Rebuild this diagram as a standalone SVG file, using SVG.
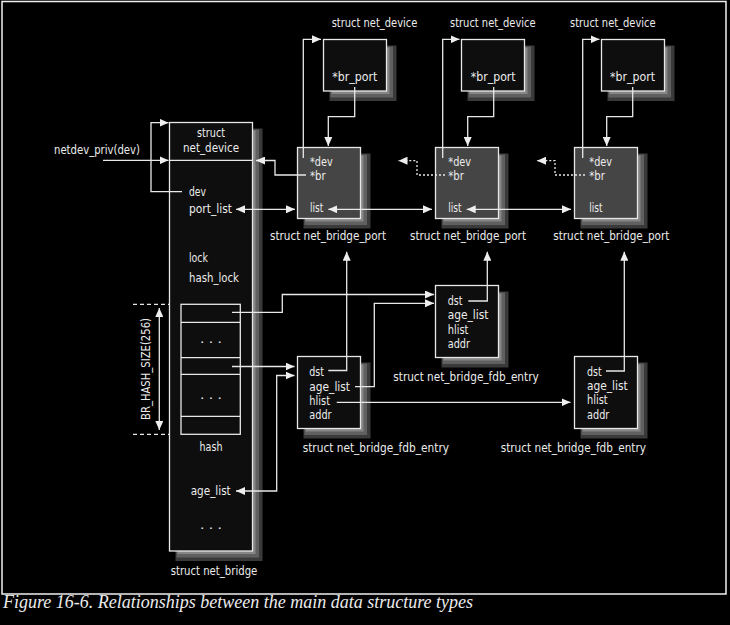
<svg xmlns="http://www.w3.org/2000/svg" width="730" height="625" viewBox="0 0 730 625">
<defs>
<marker id="ah" viewBox="0 0 9 8" refX="9" refY="4" markerWidth="9" markerHeight="8" markerUnits="userSpaceOnUse" orient="auto-start-reverse"><path d="M0,0 L9,4 L0,8 z" fill="#eeeeee"/></marker>
</defs>
<style>
.box{fill:#0e0e0e;stroke:#e8e8e8;stroke-width:1.3}
.port{fill:#454545;stroke:#e8e8e8;stroke-width:1.3}
.s1{fill:#3a3a3a}.s2{fill:#606060}.s3{fill:#868686}
text{font-family:"DejaVu Sans Condensed","Liberation Sans Narrow","Liberation Sans",sans-serif;font-size:13px;fill:#ececec}
.mid{text-anchor:middle}
.cap{font-family:"Liberation Serif","DejaVu Serif",serif;font-style:italic;font-size:18px}
.c{fill:none;stroke:#e8e8e8;stroke-width:1.3}
.a{marker-end:url(#ah)}
.aa{marker-start:url(#ah);marker-end:url(#ah)}
.dot{stroke-dasharray:2,2}
.dash{stroke-dasharray:4,3}
</style>
<rect x="0" y="0" width="730" height="625" fill="#000"/>
<rect x="2" y="1.5" width="724" height="592.5" fill="none" stroke="#f0f0f0" stroke-width="1.5"/>

<g id="net_bridge">
<rect class="s1" x="175.5" y="128.5" width="87" height="432.5"/>
<rect class="s2" x="176.5" y="129.5" width="82.5" height="428"/>
<rect class="s3" x="177.5" y="130.5" width="78" height="423.5"/>
<rect class="box" x="169.5" y="122.5" width="83" height="428.5"/>
<line class="c" x1="169.5" y1="160.3" x2="252.5" y2="160.3"/>
<text class="mid" x="211" y="137" textLength="28" lengthAdjust="spacingAndGlyphs">struct</text>
<text class="mid" x="211" y="151.5" textLength="56" lengthAdjust="spacingAndGlyphs">net_device</text>
<text x="189" y="195.5" textLength="17" lengthAdjust="spacingAndGlyphs">dev</text>
<text x="189" y="212.7" textLength="43" lengthAdjust="spacingAndGlyphs">port_list</text>
<text x="189" y="262.3" textLength="19" lengthAdjust="spacingAndGlyphs">lock</text>
<text x="189" y="281.5" textLength="50" lengthAdjust="spacingAndGlyphs">hash_lock</text>
<text class="mid" x="211" y="451" textLength="23" lengthAdjust="spacingAndGlyphs">hash</text>
<text x="190.7" y="494.5" textLength="40" lengthAdjust="spacingAndGlyphs">age_list</text>
<text class="mid" x="211" y="528.5" textLength="22" lengthAdjust="spacingAndGlyphs">. . .</text>
<text x="170.7" y="574.5" textLength="86.6" lengthAdjust="spacingAndGlyphs">struct net_bridge</text>
</g>

<g id="hash">
<rect class="box" x="181" y="304.3" width="59.3" height="130"/>
<line class="c" x1="181" y1="322.3" x2="240.3" y2="322.3"/>
<line class="c" x1="181" y1="357.7" x2="240.3" y2="357.7"/>
<line class="c" x1="181" y1="374.3" x2="240.3" y2="374.3"/>
<line class="c" x1="181" y1="416.3" x2="240.3" y2="416.3"/>
<text class="mid" x="211" y="343" textLength="22" lengthAdjust="spacingAndGlyphs">. . .</text>
<text class="mid" x="211" y="399" textLength="22" lengthAdjust="spacingAndGlyphs">. . .</text>
<text class="mid" transform="rotate(-90 149.5 369)" x="149.5" y="369" textLength="102" lengthAdjust="spacingAndGlyphs">BR_HASH_SIZE(256)</text>
</g>

<g id="net_device_1">
<rect class="s1" x="329.5" y="45.5" width="67" height="55.5"/>
<rect class="s2" x="330.5" y="46.5" width="62.5" height="51"/>
<rect class="s3" x="331.5" y="47.5" width="58" height="46.5"/>
<rect class="box" x="323.5" y="39.5" width="63" height="51.5"/>
<text x="332.3" y="81" textLength="45" lengthAdjust="spacingAndGlyphs">*br_port</text>
<text x="331.7" y="27.3" textLength="85.6" lengthAdjust="spacingAndGlyphs">struct net_device</text>
</g>
<g id="net_device_2">
<rect class="s1" x="467.5" y="45.5" width="67" height="55.5"/>
<rect class="s2" x="468.5" y="46.5" width="62.5" height="51"/>
<rect class="s3" x="469.5" y="47.5" width="58" height="46.5"/>
<rect class="box" x="461.5" y="39.5" width="63" height="51.5"/>
<text x="470.7" y="81" textLength="45" lengthAdjust="spacingAndGlyphs">*br_port</text>
<text x="450" y="27.3" textLength="85.6" lengthAdjust="spacingAndGlyphs">struct net_device</text>
</g>
<g id="net_device_3">
<rect class="s1" x="607.5" y="45.5" width="67" height="55.5"/>
<rect class="s2" x="608.5" y="46.5" width="62.5" height="51"/>
<rect class="s3" x="609.5" y="47.5" width="58" height="46.5"/>
<rect class="box" x="601.5" y="39.5" width="63" height="51.5"/>
<text x="610" y="81" textLength="45" lengthAdjust="spacingAndGlyphs">*br_port</text>
<text x="570" y="27.3" textLength="85.6" lengthAdjust="spacingAndGlyphs">struct net_device</text>
</g>

<g id="port_1">
<rect class="s1" x="303.5" y="153.5" width="67" height="75"/>
<rect class="s2" x="304.5" y="154.5" width="62.5" height="70.5"/>
<rect class="s3" x="305.5" y="155.5" width="58" height="66"/>
<rect class="port" x="297.5" y="147.5" width="63" height="71"/>
<text x="310" y="165.7" textLength="22.7" lengthAdjust="spacingAndGlyphs">*dev</text>
<text x="310" y="180" textLength="15.7" lengthAdjust="spacingAndGlyphs">*br</text>
<text x="310" y="212.3" textLength="13.3" lengthAdjust="spacingAndGlyphs">list</text>
<text x="270" y="240" textLength="116" lengthAdjust="spacingAndGlyphs">struct net_bridge_port</text>
</g>
<g id="port_2">
<rect class="s1" x="441.5" y="153.5" width="67" height="75"/>
<rect class="s2" x="442.5" y="154.5" width="62.5" height="70.5"/>
<rect class="s3" x="443.5" y="155.5" width="58" height="66"/>
<rect class="port" x="435.5" y="147.5" width="63" height="71"/>
<text x="448.3" y="165.7" textLength="22.7" lengthAdjust="spacingAndGlyphs">*dev</text>
<text x="448.3" y="180" textLength="15.7" lengthAdjust="spacingAndGlyphs">*br</text>
<text x="448.3" y="212.3" textLength="13.3" lengthAdjust="spacingAndGlyphs">list</text>
<text x="410" y="240" textLength="116" lengthAdjust="spacingAndGlyphs">struct net_bridge_port</text>
</g>
<g id="port_3">
<rect class="s1" x="580.5" y="153.5" width="67" height="75"/>
<rect class="s2" x="581.5" y="154.5" width="62.5" height="70.5"/>
<rect class="s3" x="582.5" y="155.5" width="58" height="66"/>
<rect class="port" x="574.5" y="147.5" width="63" height="71"/>
<text x="589.3" y="165.7" textLength="22.7" lengthAdjust="spacingAndGlyphs">*dev</text>
<text x="589.3" y="180" textLength="15.7" lengthAdjust="spacingAndGlyphs">*br</text>
<text x="589.3" y="212.3" textLength="13.3" lengthAdjust="spacingAndGlyphs">list</text>
<text x="553.3" y="240" textLength="116" lengthAdjust="spacingAndGlyphs">struct net_bridge_port</text>
</g>

<g id="fdb_1">
<rect class="s1" x="303.5" y="362.5" width="67" height="76"/>
<rect class="s2" x="304.5" y="363.5" width="62.5" height="71.5"/>
<rect class="s3" x="305.5" y="364.5" width="58" height="67"/>
<rect class="box" x="297.5" y="356.5" width="63" height="72"/>
<text x="309.3" y="376" textLength="14.7" lengthAdjust="spacingAndGlyphs">dst</text>
<text x="309.3" y="390.7" textLength="40.7" lengthAdjust="spacingAndGlyphs">age_list</text>
<text x="309.3" y="404.5" textLength="20.7" lengthAdjust="spacingAndGlyphs">hlist</text>
<text x="309.3" y="419" textLength="22.3" lengthAdjust="spacingAndGlyphs">addr</text>
<text x="302.7" y="451.7" textLength="146.3" lengthAdjust="spacingAndGlyphs">struct net_bridge_fdb_entry</text>
</g>
<g id="fdb_2">
<rect class="s1" x="441.5" y="291.5" width="67" height="76"/>
<rect class="s2" x="442.5" y="292.5" width="62.5" height="71.5"/>
<rect class="s3" x="443.5" y="293.5" width="58" height="67"/>
<rect class="box" x="435.5" y="285.5" width="63" height="72"/>
<text x="447.7" y="304.5" textLength="14.7" lengthAdjust="spacingAndGlyphs">dst</text>
<text x="447.7" y="319" textLength="40.7" lengthAdjust="spacingAndGlyphs">age_list</text>
<text x="447.7" y="333.5" textLength="20.7" lengthAdjust="spacingAndGlyphs">hlist</text>
<text x="447.7" y="348.3" textLength="22.3" lengthAdjust="spacingAndGlyphs">addr</text>
<text x="393.3" y="381" textLength="145.4" lengthAdjust="spacingAndGlyphs">struct net_bridge_fdb_entry</text>
</g>
<g id="fdb_3">
<rect class="s1" x="580.5" y="362.5" width="67" height="76"/>
<rect class="s2" x="581.5" y="363.5" width="62.5" height="71.5"/>
<rect class="s3" x="582.5" y="364.5" width="58" height="67"/>
<rect class="box" x="574.5" y="356.5" width="63" height="72"/>
<text x="587" y="375.5" textLength="14.7" lengthAdjust="spacingAndGlyphs">dst</text>
<text x="587" y="390.3" textLength="40.7" lengthAdjust="spacingAndGlyphs">age_list</text>
<text x="587" y="404.3" textLength="20.7" lengthAdjust="spacingAndGlyphs">hlist</text>
<text x="587" y="419" textLength="22.3" lengthAdjust="spacingAndGlyphs">addr</text>
<text x="500.7" y="451.7" textLength="145.3" lengthAdjust="spacingAndGlyphs">struct net_bridge_fdb_entry</text>
</g>

<g id="netdev_priv">
<text x="54" y="154" textLength="86" lengthAdjust="spacingAndGlyphs">netdev_priv(dev)</text>
</g>

<g id="connectors">
<path class="c a" d="M103,160.3 H168.5"/>
<path class="c a" d="M182,191.7 H151 V122.7 H168.5"/>
<path class="c a" d="M306,175 H275 V160.5 H256"/>
<path class="c aa" d="M236,209.3 H295"/>
<path class="c aa" d="M328.3,209.3 H432"/>
<path class="c aa" d="M466.7,209.3 H571"/>
<path class="c a" d="M354.7,87 V116.7 H328.3 V146"/>
<path class="c a" d="M493.7,87 V116.7 H467.7 V146"/>
<path class="c a" d="M632.7,87 V116.7 H606.7 V146"/>
<path class="c a" d="M303.3,158 V39.3 H321"/>
<path class="c a" d="M442.7,158 V39.3 H459.5"/>
<path class="c a" d="M582.7,158 V39.3 H599.5"/>
<path class="c a dot" d="M445,175 H417 V160.7 H398.5"/>
<path class="c a dot" d="M585,175 H555 V160.7 H537"/>
<path class="c a" d="M232,312.3 H282.3 V294.5 H434"/>
<path class="c a" d="M232,366.5 H294.5"/>
<path class="c aa" d="M236,491 H276.7 V375.5 H294.5"/>
<path class="c a" d="M355,386.7 H374.3 V303.3 H434"/>
<path class="c a" d="M336.7,402.3 H570.5"/>
<path class="c a" d="M328.3,370.5 H346.7 V251.7"/>
<path class="c a" d="M468.3,301 H487.3 V251.7"/>
<path class="c a" d="M606,371 H624.3 V251.7"/>
<path class="c dash" d="M133,304.3 H169"/>
<path class="c dash" d="M133,434.3 H169"/>
<path class="c aa" d="M159.3,308 V430"/>
</g>

<text class="cap" x="3" y="607.5" textLength="470" lengthAdjust="spacingAndGlyphs">Figure 16-6. Relationships between the main data structure types</text>
</svg>
